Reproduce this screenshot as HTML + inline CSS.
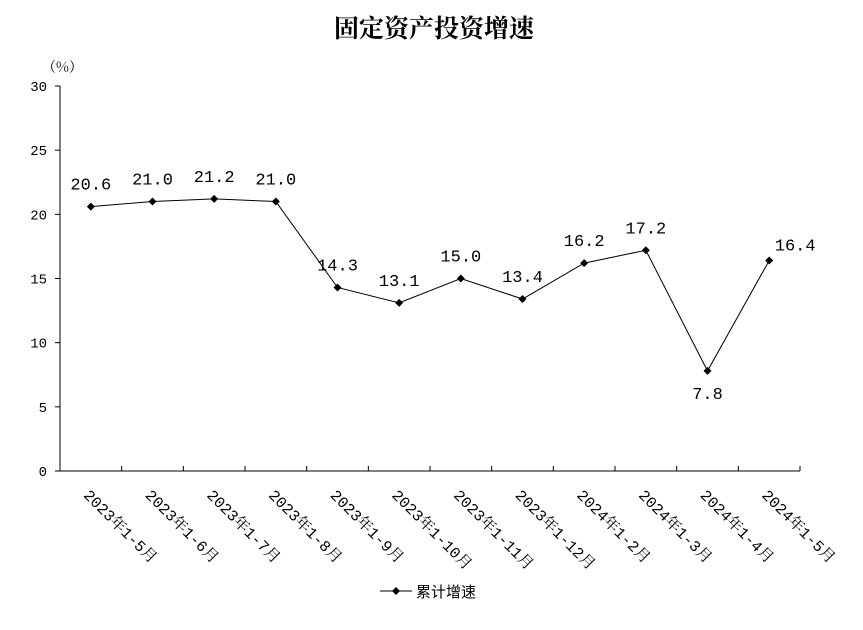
<!DOCTYPE html>
<html><head><meta charset="utf-8"><style>body{margin:0;background:#fff}</style></head><body>
<svg width="863" height="625" xmlns="http://www.w3.org/2000/svg" font-family="'Liberation Mono','Noto Serif CJK SC',monospace">
<text x="434" y="37" text-anchor="middle" font-size="25" font-weight="bold" font-family="'Liberation Serif','Noto Serif CJK SC',serif">固定资产投资增速</text>
<text x="42" y="72" font-size="14" font-family="'Noto Serif CJK SC',serif">（%）</text>
<g id="axes"></g><g id="marks"></g>
<g>
<line x1="380" y1="591" x2="412" y2="591" stroke="#000"/>
<path d="M396 587L400 591L396 595L392 591Z" fill="#000"/>
<text x="416" y="597" font-size="15" font-family="'Noto Sans CJK SC',sans-serif">累计增速</text>
</g>
</svg>
<script>
const categories=["2023年1-5月","2023年1-6月","2023年1-7月","2023年1-8月","2023年1-9月","2023年1-10月","2023年1-11月","2023年1-12月","2024年1-2月","2024年1-3月","2024年1-4月","2024年1-5月"];
const values=[20.6,21.0,21.2,21.0,14.3,13.1,15.0,13.4,16.2,17.2,7.8,16.4];
const yTicks=[0,5,10,15,20,25,30];
const NS="http://www.w3.org/2000/svg";
const L=60,R=800,T=86,B=471,yMax=30;
const bw=(R-L)/categories.length;
const x=i=>L+bw*(i+0.5);
const y=v=>B-(v/yMax)*(B-T);
function mk(p,tag,a){const e=document.createElementNS(NS,tag);for(const k in a)e.setAttribute(k,a[k]);p.appendChild(e);return e;}
const ax=document.getElementById('axes'),mg=document.getElementById('marks');
let e=mk(ax,'line',{x1:L,y1:T,x2:L,y2:B,stroke:'#000'});


e=mk(ax,'line',{x1:L,y1:B,x2:R,y2:B,stroke:'#000'});


yTicks.forEach(t=>{
 e=mk(ax,'line',{x1:L-5,y1:y(t),x2:L,y2:y(t),stroke:'#000'});
 
 
 e=mk(ax,'text',{x:L-13,y:y(t)+5,'text-anchor':'end','font-size':14});
 e.textContent=t;
 
 
});
for(let i=0;i<=categories.length;i++){
 const xx=L+bw*i;
 e=mk(ax,'line',{x1:xx,y1:B-5,x2:xx,y2:B,stroke:'#000'});
 
 
}
categories.forEach((c,i)=>{
 const tx=x(i)-8,ty=496;
 e=mk(ax,'text',{x:tx,y:ty,'font-size':15.5,transform:`rotate(45 ${tx} ${ty})`});
 e.textContent=c;
 
 
});
e=mk(mg,'polyline',{points:values.map((v,i)=>x(i)+','+y(v)).join(' '),fill:'none',stroke:'#000','stroke-width':1});


values.forEach((v,i)=>{
 const px=x(i),py=y(v);
 e=mk(mg,'path',{d:`M${px} ${py-4}L${px+4} ${py}L${px} ${py+4}L${px-4} ${py}Z`,fill:'#000'});
 
 
 let lx=px,ly=py-17;
 if(i===10){ly=py+28;}
 if(i===11){lx=px+26;ly=py-10;}
 e=mk(mg,'text',{x:lx,y:ly,'text-anchor':'middle','font-size':17,fill:'#000'});
 e.textContent=v.toFixed(1);
 
 
});
</script>
</body></html>
